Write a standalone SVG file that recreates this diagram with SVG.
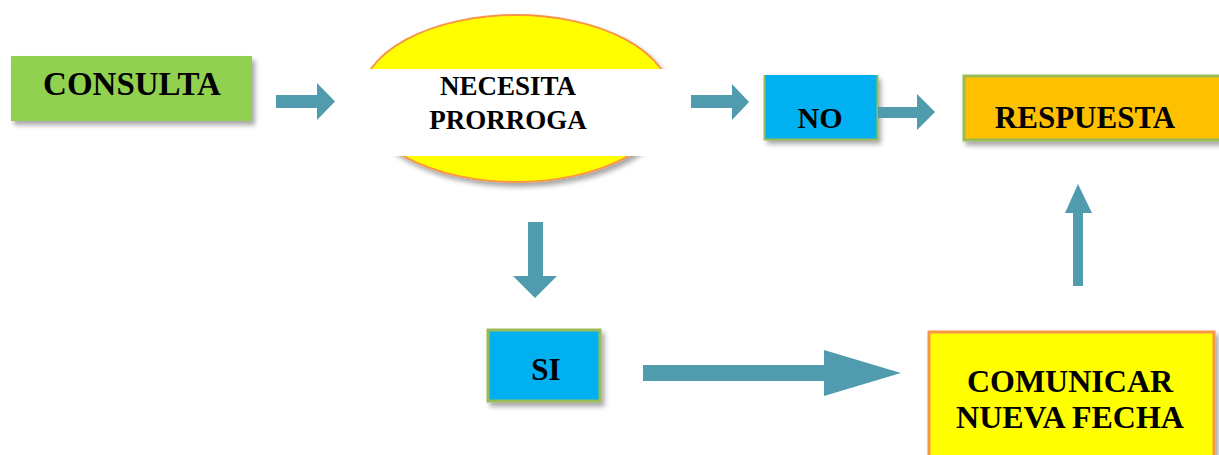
<svg xmlns="http://www.w3.org/2000/svg" width="1219" height="455" viewBox="0 0 1219 455">
<defs>
<filter id="sh" x="-10%" y="-10%" width="130%" height="140%">
<feDropShadow dx="3" dy="4" stdDeviation="2.5" flood-color="#000" flood-opacity="0.35"/>
</filter>
</defs>
<style>
.t{font-family:"Liberation Serif","Times New Roman",serif;font-weight:bold;fill:#000;text-anchor:middle}
.arr{fill:#519BAF}
</style>
<rect width="1219" height="455" fill="#fff"/>
<g id="consulta">
<rect x="11" y="56" width="241" height="65" fill="#92D050" filter="url(#sh)"/>
<text class="t" x="132" y="95" font-size="33">CONSULTA</text>
</g>
<g id="necesita">
<ellipse cx="516" cy="98.5" rx="155" ry="83.5" fill="#FFFF00" stroke="#F79646" stroke-width="2" filter="url(#sh)"/>
<rect x="340" y="69" width="345" height="87" fill="#fff"/>
<text class="t" x="508" y="95" font-size="27">NECESITA</text>
<text class="t" x="508" y="129" font-size="27">PRORROGA</text>
</g>
<g id="no">
<rect x="764" y="75" width="114" height="65" fill="#00B0F0" filter="url(#sh)"/>
<path d="M764.5 75 V139.5 H877.5 V75" fill="none" stroke="#9BBB59" stroke-width="2"/>
<text class="t" x="820" y="128" font-size="30">NO</text>
</g>
<g id="respuesta">
<rect x="964" y="76" width="260" height="64" fill="#FFC000" stroke="#9BBB59" stroke-width="3" filter="url(#sh)"/>
<text class="t" x="1085" y="128" font-size="31">RESPUESTA</text>
</g>
<g id="si">
<rect x="488" y="330" width="112" height="71" fill="#00B0F0" stroke="#9BBB59" stroke-width="3" filter="url(#sh)"/>
<text class="t" x="546" y="380" font-size="31">SI</text>
</g>
<g id="comunicar">
<rect x="929" y="332" width="285" height="130" fill="#FFFF00" stroke="#F79646" stroke-width="3" filter="url(#sh)"/>
<text class="t" x="1070" y="392" font-size="32">COMUNICAR</text>
<text class="t" x="1070" y="428" font-size="32">NUEVA FECHA</text>
</g>
<g id="connectors">
<polygon class="arr" points="276,95 317,95 317,83 335,101.5 317,120 317,108 276,108"/>
<polygon class="arr" points="691,95 732,95 732,84 749,102 732,120 732,108 691,108"/>
<polygon class="arr" points="878,107 917,107 917,94 935,112 917,130 917,118 878,118"/>
<polygon class="arr" points="528,222 543,222 543,276 557,276 535,298 513,276 528,276"/>
<polygon class="arr" points="643,365 824,365 824,350 901,373 824,396 824,381 643,381"/>
<polygon class="arr" points="1073,286 1083,286 1083,213 1092,213 1078,184 1065,213 1073,213"/>
</g>
</svg>
